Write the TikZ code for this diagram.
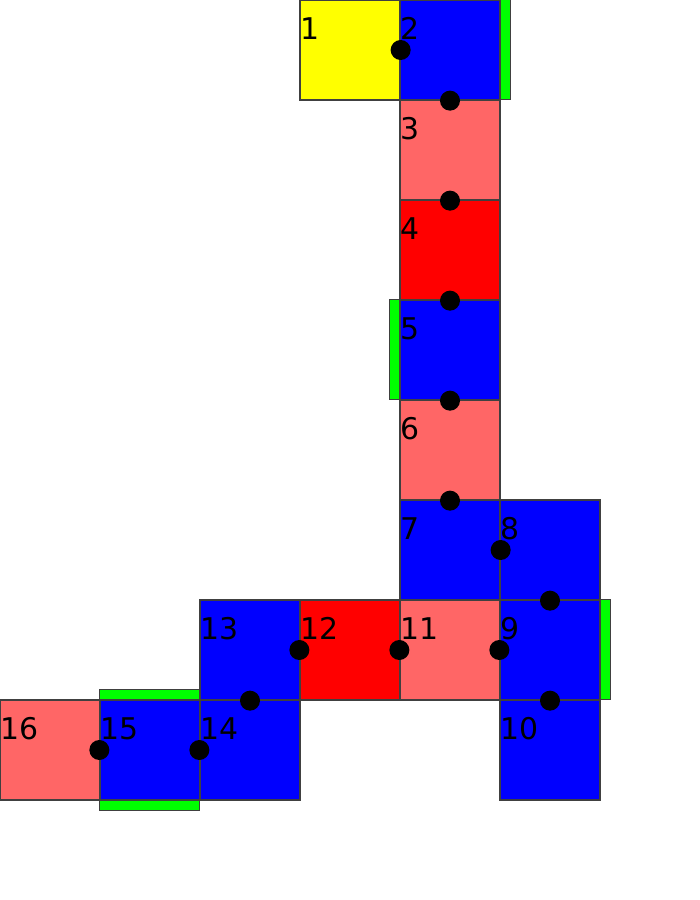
\documentclass[tikz,border=0pt]{standalone}
\usepackage{fontspec}
\setmainfont{DejaVu Sans}
\usetikzlibrary{calc, positioning}
\definecolor{lightred}{HTML}{FF6666}
\definecolor{barGreen}{HTML}{00FF00}
\definecolor{sqYellow}{HTML}{FFFF00}
\definecolor{sqBlue}{HTML}{0000FF}
\definecolor{sqRed}{HTML}{FF0000}

\begin{document}
\begin{tikzpicture}[x=0.01cm, y=-0.01cm, font=\fontsize{8.5}{10}\selectfont,
	sq/.style={draw=black!75, line width=0.35pt, inner sep=0, minimum size=1cm},
	num/.style={anchor=base west, inner sep=0},
	bar/.style={fill=barGreen, draw=black!75, line width=0.35pt},
	dot/.style={fill=black}]
		\useasboundingbox (0,0) rectangle (700,900);
		% squares
		\foreach \n/\x/\y/\c in {1/350/50/sqYellow, 2/450/50/sqBlue, 3/450/150/lightred, 4/450/250/sqRed,
			5/450/350/sqBlue, 6/450/450/lightred, 7/450/550/sqBlue, 8/550/550/sqBlue, 9/550/650/sqBlue,
			10/550/750/sqBlue, 11/450/650/lightred, 12/350/650/sqRed, 13/250/650/sqBlue, 14/250/750/sqBlue,
			15/150/750/sqBlue, 16/50/750/lightred}
			\node[sq, fill=\c] (s\n) at (\x,\y) {};
		% green bars
		\draw[bar] (s2.north east) rectangle ++(10,100);
		\draw[bar] (s5.north west) rectangle ++(-10,100);
		\draw[bar] (s9.north east) rectangle ++(10,100);
		\draw[bar] (s15.north west) rectangle ++(100,-10);
		\draw[bar] (s15.south west) rectangle ++(100,10);
		% numbers
		\foreach \n in {1,...,16}
			\node[num] (t\n) at ($(s\n.north west)+(0,40)$) {\n};
		% joints
		\foreach \p in {s1.east, s2.south, s3.south, s4.south, s5.south, s6.south, s7.east, s8.south,
			s9.south, s9.west, s11.west, s12.west, s13.south, s14.west, s15.west}
			\fill[dot] (\p) circle[radius=0.1cm];
	\end{tikzpicture}
\end{document}
